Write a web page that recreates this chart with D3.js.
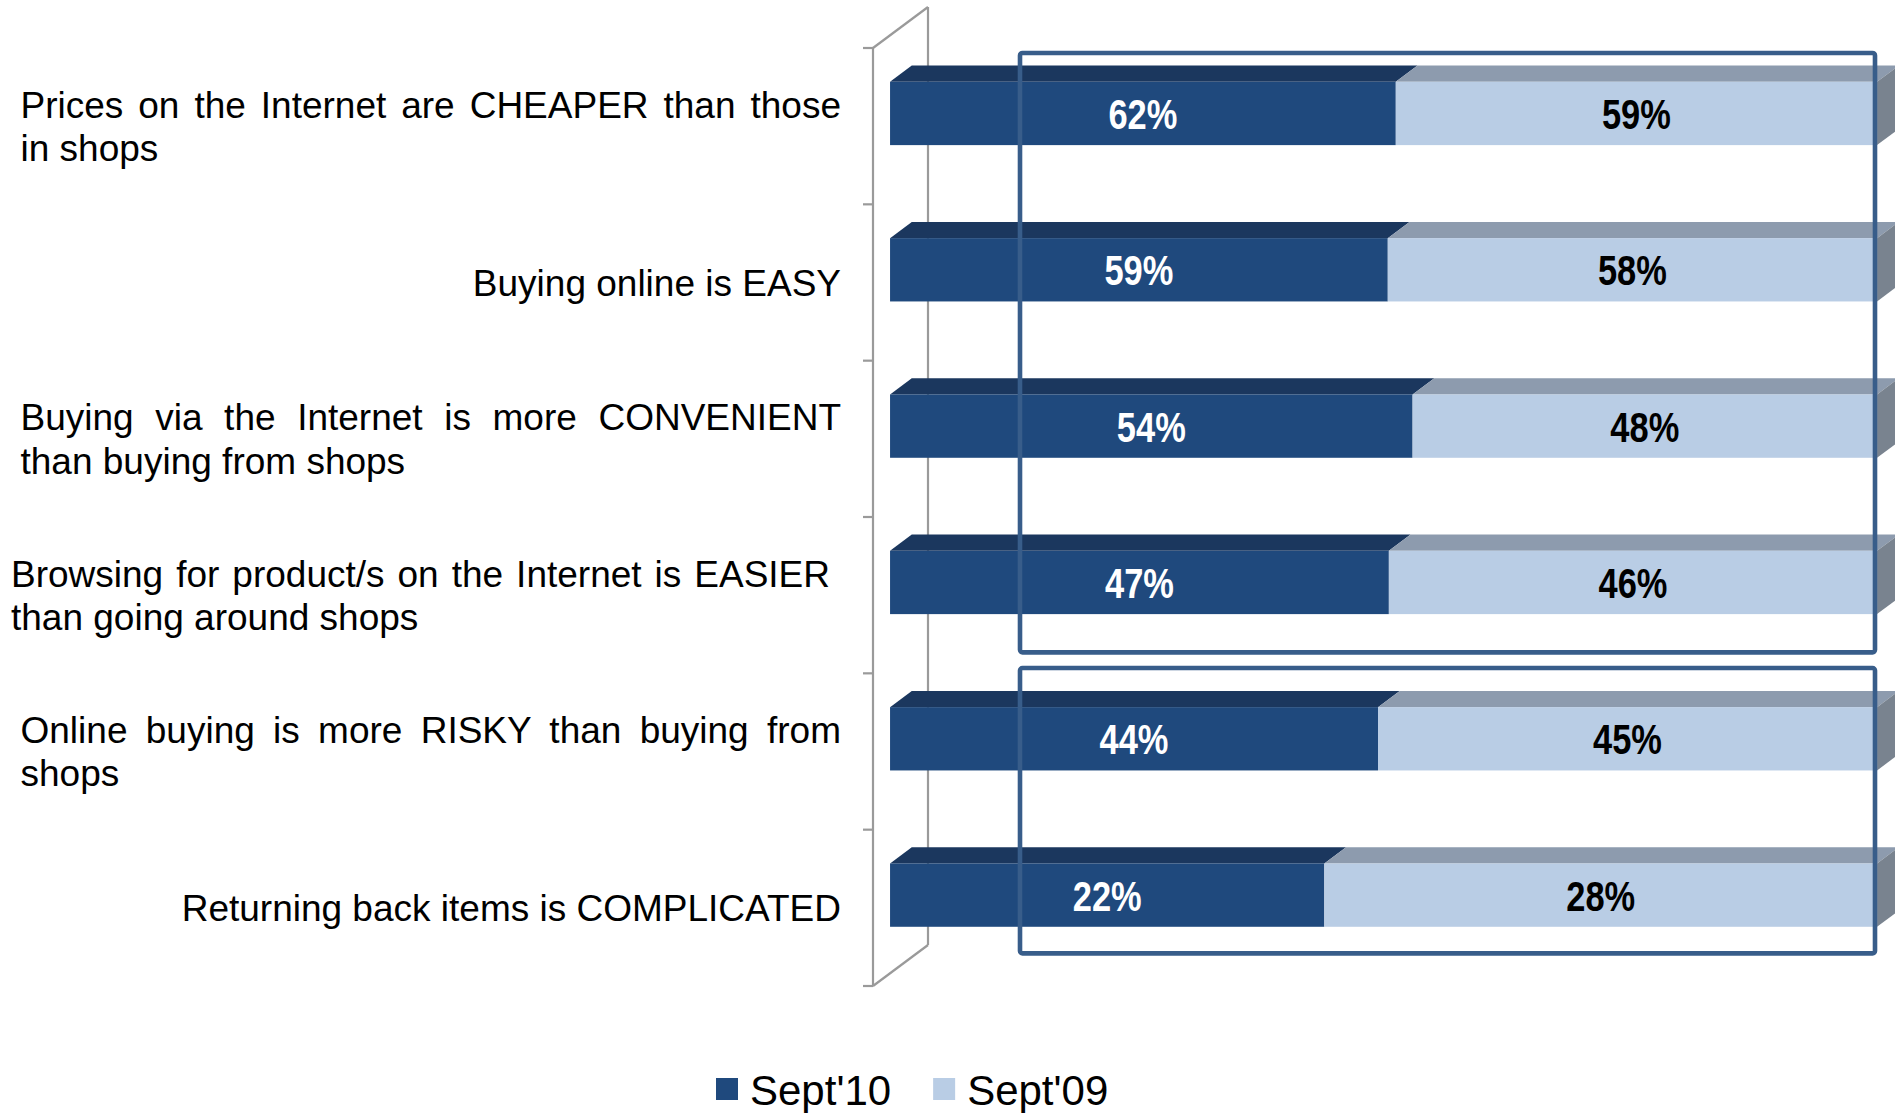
<!DOCTYPE html>
<html>
<head>
<meta charset="utf-8">
<script src="https://cdn.jsdelivr.net/npm/d3@7"></script>
<style>
  html, body { margin: 0; padding: 0; background: #fff; overflow: hidden; }
  svg { display: block; }
</style>
</head>
<body>
<svg id="chart" width="1895" height="1113"></svg>
<script>
// Statements (one entry per bar, each split into its printed lines)
const categories = [
  ["Prices on the Internet are CHEAPER than those", "in shops"],
  ["Buying online is EASY"],
  ["Buying via the Internet is more CONVENIENT", "than buying from shops"],
  ["Browsing for product/s on the Internet is EASIER", "than going around shops"],
  ["Online buying is more RISKY than buying from", "shops"],
  ["Returning back items is COMPLICATED"]
];
const seriesNames = ["Sept'10", "Sept'09"];
const sept10 = [62, 59, 54, 47, 44, 22];
const sept09 = [59, 58, 48, 46, 45, 28];
// statements grouped by the outlined frames (first..last index)
const frameGroups = [[0, 3], [4, 5]];

// ---- layout / style ----
const W = 1895, H = 1113;
const colors = {
  front: ["#1F497D", "#B9CDE5"],
  top:   ["#1B375E", "#8D9BAE"],
  side:  ["#17304F", "#79838F"],
  label: ["#FFFFFF", "#000000"],
  wall: "#9A9A9A",
  frame: "#385D8A"
};
const floor = { dx: 55, dy: -41 };        // projection of the full depth
const barDepth = [0.31, 0.705];           // bars sit in the middle of the depth
const P = (x, y, d) => [x + d * floor.dx, y + d * floor.dy];

const svg = d3.select("#chart");

function fontAvailable(name) {
  const c = document.createElement("canvas").getContext("2d");
  const t = "62%Sept'10 WMi";
  c.font = "bold 40px monospace";
  const a = c.measureText(t).width;
  c.font = `bold 40px "${name}", monospace`;
  const b = c.measureText(t).width;
  return Math.abs(a - b) > 0.5;
}
const hasNarrow = fontAvailable("Liberation Sans Narrow");

// ---- data ----
const rows = categories.map((c, i) => ({ idx: i, [seriesNames[0]]: sept10[i], [seriesNames[1]]: sept09[i] }));
const stacked = d3.stack().keys(seriesNames).offset(d3.stackOffsetExpand)(rows);

// ---- scales (defined on the front plane of the category wall) ----
const x = d3.scaleLinear().domain([0, 1]).range([873, 1860]);
const y = d3.scaleBand()
  .domain(d3.range(categories.length))
  .range([48, 986])
  .paddingInner(0.595)
  .paddingOuter(0.2975);
const step = y.step();
const [yTop, yBot] = y.range();

// ---- wall (category axis in 3D) ----
const wall = svg.append("g").attr("stroke", colors.wall).attr("stroke-width", 2.2).attr("fill", "none");
const line = d3.line();
wall.append("path").attr("d", line([P(x(0), yTop, 0), P(x(0), yBot, 0)]));
wall.append("path").attr("d", line([P(x(0), yTop, 1), P(x(0), yBot, 1)]));
wall.append("path").attr("d", line([P(x(0), yTop, 0), P(x(0), yTop, 1)]));
wall.append("path").attr("d", line([P(x(0), yBot, 0), P(x(0), yBot, 1)]));
d3.range(categories.length + 1).forEach(k => {
  const yy = yTop + k * step;
  wall.append("path").attr("d", line([[x(0) - 10, yy], [x(0), yy]]));
});

// ---- bars ----
const barsG = svg.append("g");
const [dF, dB] = barDepth;
stacked.forEach((series, si) => {
  const g = barsG.append("g");
  series.forEach((seg, i) => {
    const x0 = x(seg[0]), x1 = x(seg[1]);
    const y0 = y(i), y1 = y0 + y.bandwidth();
    // top face
    g.append("path")
      .attr("d", line([P(x0, y0, dF), P(x1, y0, dF), P(x1, y0, dB), P(x0, y0, dB)]) + "Z")
      .attr("fill", colors.top[si]);
    // end face of the stack
    if (si === stacked.length - 1) {
      g.append("path")
        .attr("d", line([P(x1, y0, dF), P(x1, y0, dB), P(x1, y1, dB), P(x1, y1, dF)]) + "Z")
        .attr("fill", colors.side[si]);
    }
    // front face
    const [fx0, fy0] = P(x0, y0, dF);
    const [fx1, fy1] = P(x1, y1, dF);
    g.append("rect")
      .attr("x", fx0).attr("y", fy0)
      .attr("width", fx1 - fx0).attr("height", fy1 - fy0)
      .attr("fill", colors.front[si]);
  });
});

// ---- outlined frames around statement groups ----
const frameOffsets = [[5, -21], [-5.3, -32.6]];
frameGroups.forEach(([a, b], k) => {
  const top = yTop + a * step + frameOffsets[k][0];
  const bottom = yTop + (b + 1) * step + frameOffsets[k][1];
  const left = x(0) + 147, right = x(1) + 15;
  svg.append("rect")
    .attr("x", left).attr("y", top)
    .attr("width", right - left).attr("height", bottom - top)
    .attr("rx", 2.5)
    .attr("fill", "none")
    .attr("stroke", colors.frame)
    .attr("stroke-width", 4.6);
});

// ---- value labels ----
const valG = svg.append("g");
const valueFont = hasNarrow ? "'Liberation Sans Narrow', 'Arial Narrow', sans-serif" : "'Liberation Sans', Arial, sans-serif";
const values = [sept10, sept09];
stacked.forEach((series, si) => {
  series.forEach((seg, i) => {
    const [fx0, fy0] = P(x(seg[0]), y(i), dF);
    const [fx1, fy1] = P(x(seg[1]), y(i) + y.bandwidth(), dF);
    const cx = (fx0 + fx1) / 2, cy = (fy0 + fy1) / 2;
    const t = valG.append("text")
      .attr("transform", `translate(${cx},${cy + 15.5})` + (hasNarrow ? "" : " scale(0.82,1)"))
      .attr("text-anchor", "middle")
      .attr("font-family", valueFont)
      .attr("font-weight", "bold")
      .attr("font-size", 42)
      .attr("fill", colors.label[si])
      .text(values[si][i] + "%");
  });
});

// ---- statement labels ----
const labG = svg.append("g")
  .attr("font-family", "'Liberation Sans', Arial, sans-serif")
  .attr("font-size", 37)
  .attr("fill", "#000");
const lineH = 43.5;
categories.forEach((lines, i) => {
  const frame = i === 3 ? [11, 830] : [20.5, 841];
  const c = yTop + (i + 0.5) * step;
  const first = c - (lines.length - 1) * lineH / 2 + 13.2;
  lines.forEach((ln, j) => {
    const t = labG.append("text").attr("y", first + j * lineH).text(ln);
    if (lines.length === 1) {
      t.attr("x", frame[1]).attr("text-anchor", "end");
    } else {
      t.attr("x", frame[0]);
      if (j < lines.length - 1) {
        const gaps = ln.split(" ").length - 1;
        const natural = t.node().getComputedTextLength();
        const extra = (frame[1] - frame[0] - natural) / gaps;
        t.attr("word-spacing", extra);
      }
    }
  });
});

// ---- legend ----
const leg = svg.append("g")
  .attr("font-family", "'Liberation Sans', Arial, sans-serif")
  .attr("font-size", 42);
let lx = 716;
seriesNames.forEach((name, si) => {
  leg.append("rect").attr("x", lx).attr("y", 1078).attr("width", 22).attr("height", 22)
    .attr("fill", colors.front[si]);
  const t = leg.append("text").attr("x", lx + 34).attr("y", 1104.5).text(name);
  lx = lx + 34 + t.node().getComputedTextLength() + 42;
});
</script>
</body>
</html>
